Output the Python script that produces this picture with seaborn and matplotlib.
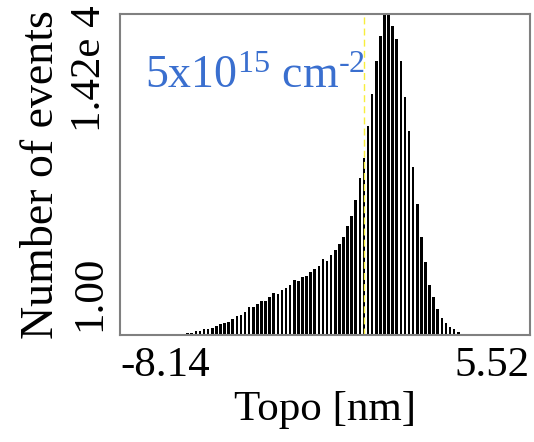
import numpy as np
import pandas as pd
import matplotlib
matplotlib.use("Agg")
import matplotlib.pyplot as plt
import matplotlib.transforms as mtransforms
import seaborn as sns

# ---- data ----
topo_min = -8.14
topo_max = 5.52
n_bins = 100
first_bin = 16
counts = [104, 104, 178, 178, 251, 251, 325, 400, 488, 547,
          592, 695, 843, 888, 1035, 1228, 1228, 1376, 1524, 1524,
          1701, 1849, 1805, 1997, 2071, 2219, 2411, 2367, 2559, 2618,
          2766, 2914, 3062, 3358, 3254, 3520, 3772, 4038, 4319, 4808,
          5251, 5961, 6937, 7840, 9245, 10680, 12100, 13210, 14200, 14200,
          13650, 13080, 12130, 10530, 9020, 7440, 5800, 4320, 3225, 2190,
          1670, 1170, 740, 518, 370, 251, 148]
y_ticks = [1, 14200]
y_ticklabels = ["1.00", "1.42e 4"]
x_ticks = [topo_min, topo_max]
x_ticklabels = ["-8.14", "5.52"]
marker_x = 0.0
annotation = r"5x10$^{\mathrm{15}}$ cm$^{\text{-2}}$"

# ---- derived positions ----
width = (topo_max - topo_min) / n_bins
centers = topo_min + (np.arange(first_bin, first_bin + len(counts)) + 0.5) * width
df = pd.DataFrame({"topo": centers, "count": counts})

sns.set_theme(style="white")
plt.rcParams["font.family"] = ["Liberation Serif", "DejaVu Serif"]
plt.rcParams["mathtext.fontset"] = "custom"
plt.rcParams["mathtext.rm"] = "Liberation Serif"
plt.rcParams["mathtext.it"] = "Liberation Serif:italic"
plt.rcParams["text.color"] = "black"
plt.rcParams["axes.labelcolor"] = "black"

fig = plt.figure(figsize=(5.34, 4.42), dpi=100)
ax = fig.add_axes([0.2247, 0.2421, 0.9925 - 0.2247, 0.9683 - 0.2421])

sns.histplot(data=df, x="topo", weights="count", bins=n_bins,
             binrange=(topo_min, topo_max), shrink=0.65,
             color="black", alpha=1, linewidth=0, ax=ax)

ax.axvline(marker_x, color="#f8ee3c", lw=1.0, ls=(0, (5, 3)))

ax.set_xlim(topo_min, topo_max)
ax.set_ylim(0, max(counts))

ax.tick_params(axis="both", length=0, pad=8, colors="black")

ax.set_xticks(x_ticks)
ax.set_xticklabels(x_ticklabels, fontsize=31)
xl = ax.get_xticklabels()
xl[0].set_ha("left")
xl[1].set_ha("right")

ax.set_yticks(y_ticks)
ax.set_yticklabels(y_ticklabels, fontsize=31, rotation=90)
yl = ax.get_yticklabels()
yl[0].set_va("bottom")
yl[1].set_va("top")
yl[0].set_transform(yl[0].get_transform() +
                    mtransforms.ScaledTranslation(0, 4 / 100, fig.dpi_scale_trans))
yl[1].set_transform(yl[1].get_transform() +
                    mtransforms.ScaledTranslation(0, 9 / 100, fig.dpi_scale_trans))

ax.set_xlabel("Topo [nm]", fontsize=31, labelpad=4, color="black")
ax.set_ylabel("Number of events", fontsize=33, labelpad=5, color="black")

for s in ax.spines.values():
    s.set_visible(True)
    s.set_color("#808080")
    s.set_linewidth(1.5)

ax.text(0.06, 0.77, annotation, transform=ax.transAxes, fontsize=33,
        color="#3a6fcf", ha="left", va="baseline")

fig.savefig("out.png", dpi=100)
